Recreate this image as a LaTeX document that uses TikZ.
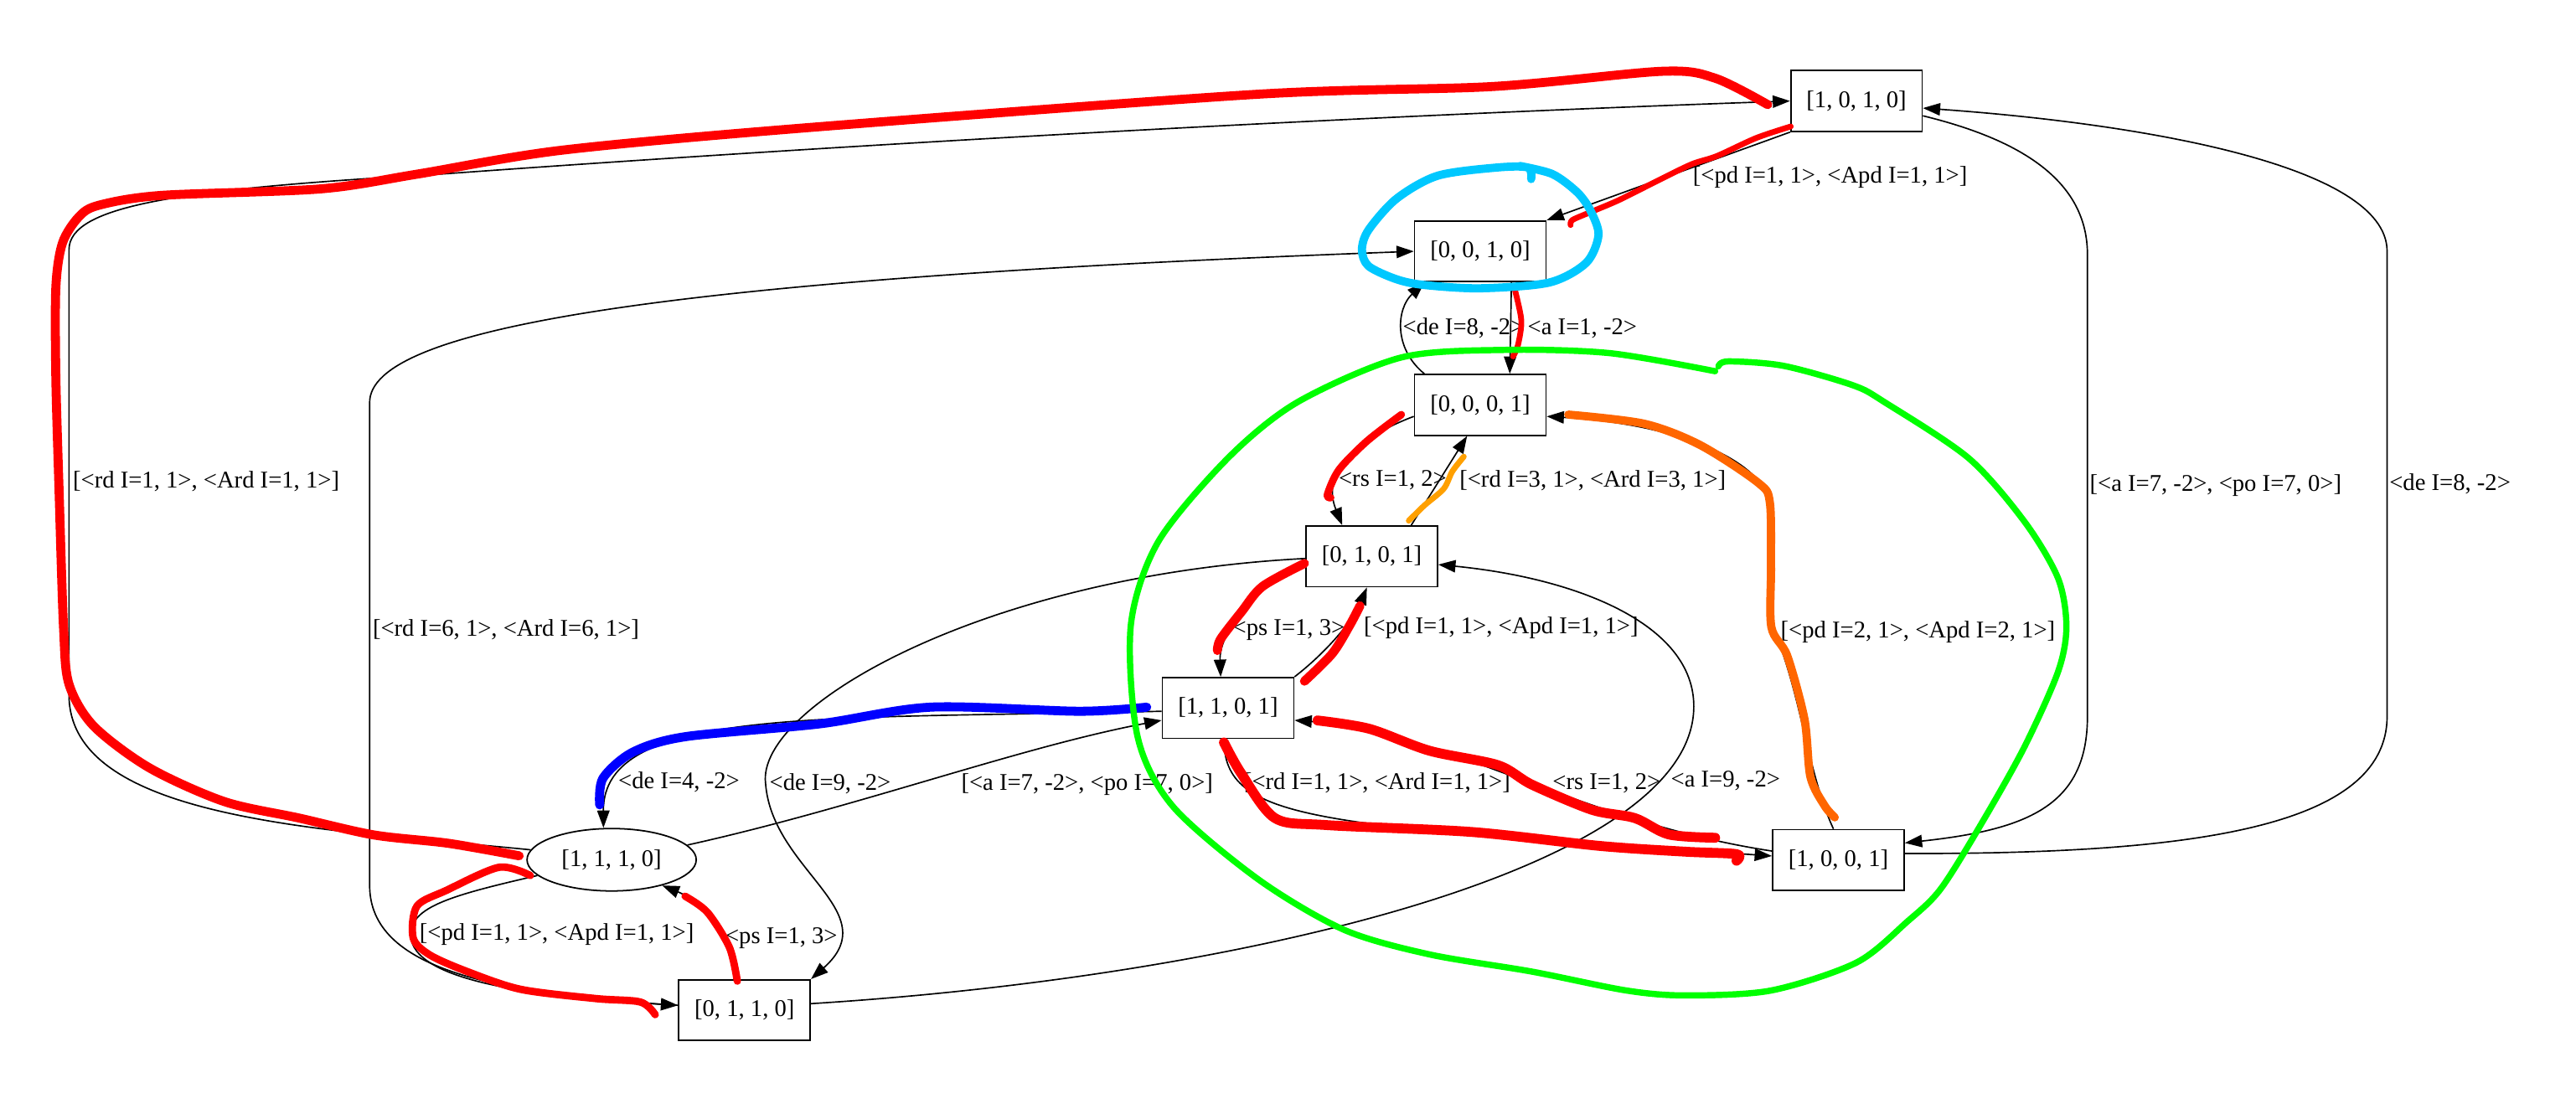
\documentclass[tikz,border=0pt]{standalone}
\usepackage{fontspec}
\setmainfont{Liberation Serif}
\usepackage{xcolor}
\usepackage{tikz}
\usetikzlibrary{arrows.meta, shapes.geometric}

\definecolor{penred}{HTML}{FF0000}
\definecolor{pengreen}{HTML}{00FF00}
\definecolor{penblue}{HTML}{0000FF}
\definecolor{pencyan}{HTML}{00C8FF}
\definecolor{penorange}{HTML}{FF6600}
\definecolor{penamber}{HTML}{FFA000}

\begin{document}
\begin{tikzpicture}[
  x=1pt, y=-1pt,
  font=\fontsize{14.6}{17}\selectfont,
  state/.style={rectangle, draw, line width=0.9pt, minimum width=80pt, minimum height=37pt, inner sep=0pt},
  ostate/.style={ellipse, draw, line width=0.9pt, minimum width=103pt, minimum height=38pt, inner sep=0pt},
  edge/.style={-{Triangle[length=10.5pt, width=7.5pt]}, line width=0.85pt},
  lbl/.style={inner sep=0pt, anchor=west},
  pen/.style={line width=#1, line cap=round, line join=round}
]
\useasboundingbox (0,0) rectangle (1568,678);

\node[state] (n1010) at (1130,61.5) {[1, 0, 1, 0]};
\node[state] (n0010) at (901,153) {[0, 0, 1, 0]};
\node[state] (n0001) at (901,246.5) {[0, 0, 0, 1]};
\node[state] (n0101) at (835,338.7) {[0, 1, 0, 1]};
\node[state] (n1101) at (747.5,431) {[1, 1, 0, 1]};
\node[state] (n1001) at (1119,523.6) {[1, 0, 0, 1]};
\node[ostate] (n1110) at (372.3,523.4) {[1, 1, 1, 0]};
\node[state] (n0110) at (453.2,615) {[0, 1, 1, 0]};

\draw[edge] (n1110.173) .. controls (200,505) and (42,500) .. (42,423) -- node[lbl, pos=.48, xshift=2pt] {[<rd I=1, 1>, <Ard I=1, 1>]} (42,152) .. controls (42,125) and (110,115) .. (268,106) .. controls (600,82) and (900,68) .. (n1010.west);
\draw[edge] ([yshift=3pt]n0110.west) .. controls (300,605) and (225,590) .. (225,539) -- node[lbl, pos=.53, xshift=1.5pt] {[<rd I=6, 1>, <Ard I=6, 1>]} (225,245) .. controls (225,200) and (400,170) .. (n0010.west);
\draw[edge] (n1010.south west) -- node[lbl, pos=.51, xshift=16pt] {[<pd I=1, 1>, <Apd I=1, 1>]} (n0010.north east);
\draw[edge] ([xshift=-34pt]n0001.north) .. controls (848,212) and (850,188) .. node[lbl, pos=.5] {<de I=8, -2>} ([xshift=-34pt]n0010.south);
\draw[edge] ([xshift=19pt]n0010.south) -- node[lbl, pos=.5, xshift=10pt] {<a I=1, -2>} ([xshift=18pt]n0001.north);
\draw[edge] ([yshift=-7pt]n0001.west) .. controls (830,265) and (803,285) .. node[lbl, pos=.7] {<rs I=1, 2>} ([xshift=-18pt]n0101.north);
\draw[edge] ([xshift=24pt]n0101.north) -- node[lbl, pos=.5, xshift=12pt] {[<rd I=3, 1>, <Ard I=3, 1>]} ([xshift=-8pt]n0001.south);
\draw[edge] ([yshift=-4pt]n0101.west) .. controls (765,355) and (742,385) .. node[lbl, pos=.65] {<ps I=1, 3>} ([xshift=-4.5pt]n1101.north);
\draw[edge] (n1101.north east) .. controls (810,395) and (825,375) .. node[lbl, pos=.55, xshift=12pt] {[<pd I=1, 1>, <Apd I=1, 1>]} ([xshift=-3pt]n0101.south);
\draw[edge] ([xshift=-3pt]n1001.north) .. controls (1100,470) and (1096,420) .. (1079,382) node[lbl, xshift=4.5pt, yshift=-3pt] {[<pd I=2, 1>, <Apd I=2, 1>]} -- (1078,310) .. controls (1076,280) and (1020,258) .. ([yshift=-7pt]n0001.east);
\draw[edge] ([yshift=-9pt]n1010.east) .. controls (1230,85) and (1270.6,110) .. (1270.6,155) -- node[lbl, pos=.5, xshift=1pt] {[<a I=7, -2>, <po I=7, 0>]} (1270.6,436) .. controls (1270.6,490) and (1235,505) .. ([yshift=-8.5pt]n1001.north east);
\draw[edge] ([yshift=4pt]n1001.east) .. controls (1330,520) and (1453,505) .. (1453,436) -- node[lbl, pos=.5, xshift=1pt] {<de I=8, -2>} (1453,153) .. controls (1453,100) and (1300,75) .. ([yshift=-4.3pt]n1010.east);
\draw[edge] ([yshift=-2pt]n1101.west) .. controls (500,438) and (367,430) .. node[lbl, pos=.85] {<de I=4, -2>} ([xshift=-5pt]n1110.north);
\draw[edge] ([yshift=-1.3pt]n0101.west) .. controls (600,350) and (460,430) .. (466,477) node[lbl, xshift=2pt] {<de I=9, -2>} .. controls (470,530) and (540,555) .. (n0110.north east);
\draw[edge] (n1110.11) .. controls (520,492) and (620,455) .. node[lbl, pos=.55, xshift=2pt, yshift=-7.5pt] {[<a I=7, -2>, <po I=7, 0>]} ([yshift=-7.5pt]n1101.west);
\draw[edge] (n1110.192) .. controls (275,545) and (250,552) .. (250,569) node[lbl, xshift=5pt] {[<pd I=1, 1>, <Apd I=1, 1>]} .. controls (250,598) and (330,607) .. ([yshift=3pt]n0110.west);
\draw[edge] ([xshift=-4.5pt]n0110.north) .. controls (444,570) and (430,550) .. node[lbl, pos=.35, xshift=1pt] {<ps I=1, 3>} (n1110.-27);
\draw[edge] ([xshift=-2.5pt]n1101.south) .. controls (745,500) and (800,502) .. node[lbl, pos=.22, xshift=2pt] {[<rd I=1, 1>, <Ard I=1, 1>]} ([yshift=2.5pt]n1001.west);
\draw[edge] ([yshift=5.5pt]n1001.west) .. controls (960,500) and (880,445) .. node[lbl, pos=.47, xshift=13pt] {<rs I=1, 2>} ([yshift=-7.5pt]n1101.east);
\draw[edge] ([yshift=4pt]n0110.east) .. controls (750,595) and (1031,530) .. node[lbl, pos=.84, xshift=6pt] {<a I=9, -2>} (1031,430) .. controls (1031,380) and (960,352) .. ([yshift=-5pt]n0101.east);

\draw[pen=5.5pt, penred] plot[smooth] coordinates {(316,521) (273,513.4) (227.6,508.3) (182,498) (136.6,488) (91,467.5) (57,442) (42,416.5) (38.7,382.5) (36,300) (34,230) (34,175) (38,148) (48,132) (60,125) (97.6,119) (195,115) (254,106) (341.5,91.5) (488,78) (765,57.4) (908,52.7) (1011.7,43.4) (1044,47.6) (1076,63.7)};
\draw[pen=3.5pt, penred] plot[smooth] coordinates {(1090,77) (1069,84) (1045,95) (1029.6,100) (1008,110.5) (985,122) (966,130) (957,134) (956,137)};
\draw[pen=3.5pt, penred] plot[smooth] coordinates {(922,176) (926,195) (924,210) (921,217)};
\draw[pen=4.5pt, penred] plot[smooth] coordinates {(853,252.4) (832,268.6) (815,286) (808,301) (810,303)};
\draw[pen=3.5pt, penamber] plot[smooth] coordinates {(857.5,317) (867,307.7) (878.8,297.5) (884,287) (891,278)};
\draw[pen=5pt, penorange] plot[smooth] coordinates {(954.6,252.4) (1001,258) (1035,271) (1070.3,294) (1077.3,306) (1078,345) (1078.2,381.7) (1087.9,399.3) (1098.4,438) (1102,473) (1110.7,490.6) (1116.8,497.6)};
\draw[pen=5.5pt, penred] plot[smooth] coordinates {(794,343) (768.5,357) (755.8,372.3) (743,389) (741,396)};
\draw[pen=5.5pt, penred] plot[smooth] coordinates {(794,414.7) (811,397.8) (821.5,380.8) (827.8,368.8)};
\draw[pen=5.5pt, penblue] plot[smooth] coordinates {(698,430.5) (657,433) (566.6,430.5) (498.6,440.7) (417,448.5) (385,458) (367,473.8) (365,490)};
\draw[pen=6pt, penred] plot[smooth] coordinates {(802,438.6) (833.6,443.7) (870,457) (911.7,465.8) (932.5,477.7) (969,493) (995,498) (1015.8,508) (1044,510)};
\draw[pen=6pt, penred] plot[smooth] coordinates {(745,452) (755.5,470.8) (776,498) (807.6,502.3) (896,506.5) (974,515) (1026,518.5) (1057,520) (1057,524)};
\draw[pen=4.5pt, penred] plot[smooth] coordinates {(322.8,533) (303.7,528) (271.8,542) (253.8,551.6) (251.5,571) (261.7,581.4) (284.5,591.5) (317,602.3) (362.6,607.9) (389.8,610) (398.8,617.7)};
\draw[pen=4.5pt, penred] plot[smooth] coordinates {(448.8,597.3) (444,576.8) (430.6,555.4) (417,545.6)};
\draw[pen=5pt, pencyan] plot[smooth] coordinates {(932,109) (930,102) (911,102) (875,107) (850,121) (833,140) (829,152) (833,162) (850,170) (867,173.5) (901,175.5) (943,172) (965.5,160) (973,143) (968,128) (960,117) (945,106) (925,101)};
\draw[pen=3.8pt, pengreen] plot[smooth] coordinates {(1044,226) (980,215) (916.6,213) (853,217.6) (789.8,244.8) (747.5,278.8) (705,329.8) (688.3,380.8) (692.5,448.8) (714,491) (766,535.4) (818,566) (870,581) (932.5,591.5) (990,603) (1026,606) (1078,603) (1130,586) (1161,561) (1181.4,541) (1206.9,500) (1232.4,454.4) (1252.7,409) (1257.8,381.4) (1252.7,352) (1232.4,317.7) (1198.4,279) (1147.4,245) (1128,234.6) (1085.6,222.7) (1052,220) (1046,223)};
\end{tikzpicture}
\end{document}
